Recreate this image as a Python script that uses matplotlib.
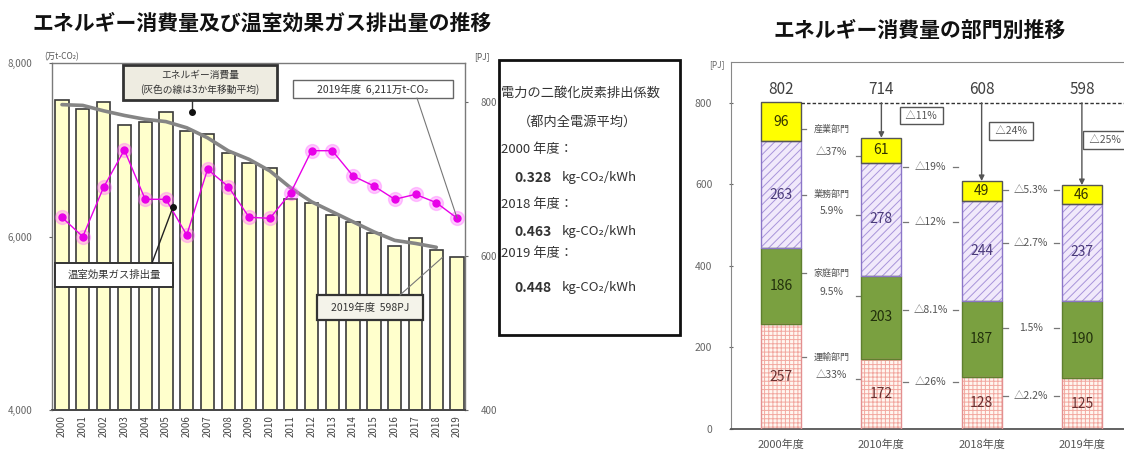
import matplotlib
matplotlib.use('Agg')
import matplotlib.pyplot as plt
import numpy as np
from matplotlib.lines import Line2D
from matplotlib.patches import Rectangle, ConnectionPatch

plt.rcParams['font.family'] = ['Noto Sans CJK JP', 'DejaVu Sans']
plt.rcParams['hatch.linewidth'] = 0.7

# ---------------- data: left chart ----------------
years = list(range(2000, 2020))
year_labels = [str(y) for y in years]
energy_pj = [802, 790, 799, 770, 774, 786, 762, 758, 733, 720,
             714, 674, 668, 653, 644, 629, 613, 623, 608, 598]
energy_ma_years = list(range(2000, 2019))
energy_ma = [796, 795, 788, 782, 777, 774, 766, 753, 736, 725,
             710, 688, 670, 657, 644, 631, 620, 616, 611]
ghg = [6221, 5998, 6567, 6997, 6429, 6429, 6017, 6775, 6574, 6221,
       6210, 6505, 6989, 6989, 6697, 6582, 6429, 6486, 6390, 6211]
ghg_ticks = [4000, 6000, 8000]
pj_ticks_left = [400, 600, 800]

# ---------------- data: right chart ----------------
fy_labels = ['2000年度', '2010年度', '2018年度', '2019年度']
transport = [257, 172, 128, 125]
household = [186, 203, 187, 190]
commercial = [263, 278, 244, 237]
industry = [96, 61, 49, 46]
totals = [802, 714, 608, 598]
sector_names = ['産業部門', '業務部門', '家庭部門', '運輸部門']
chg_2000_2010 = ['△37%', '5.9%', '9.5%', '△33%']
chg_2010_2018 = ['△19%', '△12%', '△8.1%', '△26%']
chg_2018_2019 = ['△5.3%', '△2.7%', '1.5%', '△2.2%']
total_chg = ['△11%', '△24%', '△25%']
pj_ticks_right = [0, 200, 400, 600, 800]

W, H = 1124, 450
fig = plt.figure(figsize=(W / 100, H / 100), dpi=100)


def FX(px):
    return px / W


def FY(py):
    return 1 - py / H


def fbox(x0, y0, x1, y1, face='white', edge='#333333', lw=1.2, z=10):
    r = Rectangle((FX(x0), FY(y1)), FX(x1) - FX(x0), FY(y0) - FY(y1),
                  transform=fig.transFigure, facecolor=face, edgecolor=edge,
                  linewidth=lw, zorder=z)
    fig.add_artist(r)


def fline(x0, y0, x1, y1, color='#333333', lw=1.0, z=11):
    fig.add_artist(Line2D([FX(x0), FX(x1)], [FY(y0), FY(y1)],
                          transform=fig.transFigure, color=color, lw=lw, zorder=z))


# ---------------- titles ----------------
fig.text(FX(262), FY(23), 'エネルギー消費量及び温室効果ガス排出量の推移',
         fontsize=15, fontweight='bold', ha='center', va='center', color='#111111')
fig.text(FX(920), FY(30), 'エネルギー消費量の部門別推移',
         fontsize=15, fontweight='bold', ha='center', va='center', color='#111111')

# ---------------- left chart ----------------
axE = fig.add_axes([FX(52), FY(410), FX(465) - FX(52), FY(63) - FY(410)])
x = np.arange(len(years))
axE.bar(x, energy_pj, width=0.64, color='#FFFFCC', edgecolor='#3a3a3a',
        linewidth=1.2, zorder=2)
ma_x = [years.index(y) for y in energy_ma_years]
axE.plot(ma_x, energy_ma, color='#858585', lw=2.6, zorder=3, solid_capstyle='round')
axE.set_ylim(400, 850)
axE.set_xlim(-0.48, 19.38)
axE.set_xticks(x)
axE.set_xticklabels(year_labels, rotation=90, fontsize=7, color='#444444')
axE.tick_params(axis='x', length=0, pad=4)
for s in axE.spines.values():
    s.set_color('#7a7a7a')
    s.set_linewidth(1.0)
axE.spines['bottom'].set_color('#444444')
axE.spines['bottom'].set_linewidth(1.4)

axG = axE.twinx()
axG.yaxis.tick_left()
axG.yaxis.set_label_position('left')
axG.set_ylim(4000, 8000)
axG.set_yticks(ghg_ticks)
axG.set_yticklabels([f'{v:,}' for v in ghg_ticks])
axG.tick_params(axis='y', labelsize=7, colors='#666666', length=2, pad=12)
axG.plot(x, ghg, ls='none', marker='o', ms=10, color='#FF66FF', alpha=0.35, zorder=4)
axG.plot(x, ghg, color='#E800E8', lw=1.0, marker='o', ms=5, zorder=5)
for s in axG.spines.values():
    s.set_visible(False)

# energy axis on the right (set after twinx, which resets it)
axE.yaxis.tick_right()
axE.set_yticks(pj_ticks_left)
axE.set_yticklabels([str(v) for v in pj_ticks_left])
axE.tick_params(axis='y', labelsize=7, colors='#666666', length=2, pad=9,
                left=False, labelleft=False, right=True, labelright=True)

fig.text(FX(62), FY(57), '(万t-CO₂)', fontsize=6, ha='center', va='center', color='#555555')
fig.text(FX(482), FY(57), '[PJ]', fontsize=6, ha='center', va='center', color='#555555')

# annotation: energy consumption box
fbox(123, 65, 277, 100, face='#EEECE1', edge='#333333', lw=2.0)
fig.text(FX(200), FY(75), 'エネルギー消費量', fontsize=7, ha='center', va='center',
         color='#333333', zorder=12)
fig.text(FX(200), FY(90), '(灰色の線は3か年移動平均)', fontsize=7, ha='center',
         va='center', color='#333333', zorder=12)
fline(192, 100, 192, 112)
fig.add_artist(Line2D([FX(192)], [FY(112)], transform=fig.transFigure, marker='o',
                      ms=4, color='#111111', zorder=12))

# annotation: 2019 GHG box
fbox(293, 80, 453, 98, face='white', edge='#666666', lw=1.0)
fig.text(FX(373), FY(89), '2019年度  6,211万t-CO₂', fontsize=7.5, ha='center',
         va='center', color='#333333', zorder=12)
fig.add_artist(ConnectionPatch(xyA=(FX(417), FY(98)), coordsA='figure fraction',
                               xyB=(x[-1], ghg[-1]), coordsB=axG.transData,
                               color='#777777', lw=0.8, zorder=11))

# annotation: GHG box
fbox(55, 263, 173, 287, face='white', edge='#333333', lw=1.4)
fig.text(FX(114), FY(275), '温室効果ガス排出量', fontsize=7.5, ha='center',
         va='center', color='#333333', zorder=12)
fline(152, 263, 173, 207, color='#222222', lw=1.0)
fig.add_artist(Line2D([FX(173)], [FY(207)], transform=fig.transFigure, marker='o',
                      ms=4, color='#111111', zorder=12))

# annotation: 2019 energy box
fbox(317, 295, 423, 320, face='#F4F3EA', edge='#333333', lw=1.6)
fig.text(FX(370), FY(307.5), '2019年度  598PJ', fontsize=7.5, ha='center',
         va='center', color='#333333', zorder=12)
fig.add_artist(ConnectionPatch(xyA=(FX(400), FY(295)), coordsA='figure fraction',
                               xyB=(x[-1] - 0.7, energy_pj[-1]), coordsB=axE.transData,
                               color='#777777', lw=0.8, zorder=11))

# ---------------- middle text box ----------------
fbox(499, 60, 680, 335, face='white', edge='#111111', lw=2.0, z=1)
tc = '#333333'
fig.text(FX(501), FY(93), '電力の二酸化炭素排出係数', fontsize=9.5, ha='left',
         va='center', color=tc)
fig.text(FX(577), FY(122), '（都内全電源平均）', fontsize=9.5, ha='center',
         va='center', color=tc)
coef_rows = [('2000 年度：', '0.328', 150, 178),
             ('2018 年度：', '0.463', 205, 232),
             ('2019 年度：', '0.448', 253, 288)]
for lab, val, y1, y2 in coef_rows:
    fig.text(FX(501), FY(y1), lab, fontsize=9.5, ha='left', va='center', color=tc)
    fig.text(FX(514), FY(y2), val, fontsize=10, fontweight='bold', ha='left',
             va='center', color=tc)
    fig.text(FX(562), FY(y2), 'kg-CO₂/kWh', fontsize=9.5, ha='left',
             va='center', color=tc)

# ---------------- right chart ----------------
axS = fig.add_axes([FX(731), FY(429), 1 - FX(731), FY(62) - FY(429)])
xs = np.arange(len(fy_labels))
bw = 0.4
axS.set_xlim(-0.5, 3.42)
axS.set_ylim(0, 900)

segs = [
    (transport, '#FFF6F0', '#F2A8A0', '++++', '#E39090', '#6B3030'),
    (household, '#7AA040', '#7AA040', None, '#5E7F2E', '#22300C'),
    (commercial, '#F1E9FB', '#A894DA', '////', '#8C76C8', '#4A3A7A'),
    (industry, '#FFFF00', '#FFFF00', None, '#555555', '#333300'),
]
bottom = np.zeros(len(xs))
for vals, face, hcol, hatch, border, tcol in segs:
    vals = np.array(vals)
    axS.bar(xs, vals, bw, bottom=bottom, color=face, edgecolor=hcol, hatch=hatch,
            linewidth=0, zorder=2)
    axS.bar(xs, vals, bw, bottom=bottom, fill=False, edgecolor=border,
            linewidth=1.0, zorder=3)
    for i, v in enumerate(vals):
        axS.text(xs[i], bottom[i] + v / 2, str(v), ha='center', va='center',
                 fontsize=10, color=tcol, zorder=4)
    bottom = bottom + vals

for i, tot in enumerate(totals):
    axS.text(xs[i], 832, str(tot), ha='center', va='center', fontsize=11,
             color='#404040')

axS.plot([xs[0] + bw / 2, 3.42], [totals[0] - 2, totals[0] - 2], ls=(0, (2.5, 1.5)),
         color='#333333', lw=1.0, zorder=3, clip_on=False)
for i in range(1, 4):
    axS.annotate('', xy=(xs[i], totals[i]), xytext=(xs[i], totals[0] - 2),
                 arrowprops=dict(arrowstyle='-|>', color='#555555', lw=1.0,
                                 mutation_scale=8, shrinkA=0, shrinkB=0), zorder=5)

box_pos = [(1.40, 768), (2.29, 731), (3.23, 709)]
for (bx, by), s in zip(box_pos, total_chg):
    axS.text(bx, by, ' ' + s + ' ', ha='center', va='center', fontsize=7.5,
             color='#555555', zorder=6,
             bbox=dict(boxstyle='square,pad=0.35', facecolor='white',
                       edgecolor='#555555', lw=1.0))

lab_c = '#555555'


def dash(xc, y, half):
    axS.plot([xc - half - 0.05, xc - half], [y, y], color='#777777', lw=0.9, zorder=4)
    axS.plot([xc + half, xc + half + 0.05], [y, y], color='#777777', lw=0.9, zorder=4)


# 2000 -> 2010 labels
name_y = [736, 574, 383, 177]
pct_y = [679, 535, 336, 132]
for nm, pc, ny, py in zip(sector_names, chg_2000_2010, name_y, pct_y):
    axS.text(0.5, ny, nm, ha='center', va='center', fontsize=6.5, color=lab_c)
    axS.text(0.5, py, pc, ha='center', va='center', fontsize=7.5, color=lab_c)
    axS.plot([0.21, 0.25], [ny, ny], color='#777777', lw=0.9)
    axS.plot([0.75, 0.79], [py - 10, py - 10], color='#777777', lw=0.9)

# 2010 -> 2018 labels
mid_y1 = [643, 508, 292, 115]
for s, yy in zip(chg_2010_2018, mid_y1):
    axS.text(1.49, yy, s, ha='center', va='center', fontsize=7.5, color=lab_c)
    dash(1.49, yy, 0.22)

# 2018 -> 2019 labels
mid_y2 = [586, 456, 248, 81]
for s, yy in zip(chg_2018_2019, mid_y2):
    axS.text(2.49, yy, s, ha='center', va='center', fontsize=7.5, color=lab_c)
    dash(2.49, yy, 0.23)

axS.set_yticks(pj_ticks_right)
axS.set_yticklabels([str(v) for v in pj_ticks_right])
axS.tick_params(axis='y', labelsize=7.5, colors='#666666', length=3,
                direction='inout', pad=12)
axS.set_xticks(xs)
axS.set_xticklabels(fy_labels, fontsize=8, color='#555555')
axS.tick_params(axis='x', length=0, pad=8)
axS.spines['right'].set_visible(False)
axS.spines['top'].set_color('#888888')
axS.spines['left'].set_color('#888888')
axS.spines['bottom'].set_color('#555555')
axS.spines['bottom'].set_linewidth(1.3)
fig.text(FX(717), FY(65), '[PJ]', fontsize=6, ha='center', va='center', color='#666666')

fig.savefig('out.png', dpi=100)
